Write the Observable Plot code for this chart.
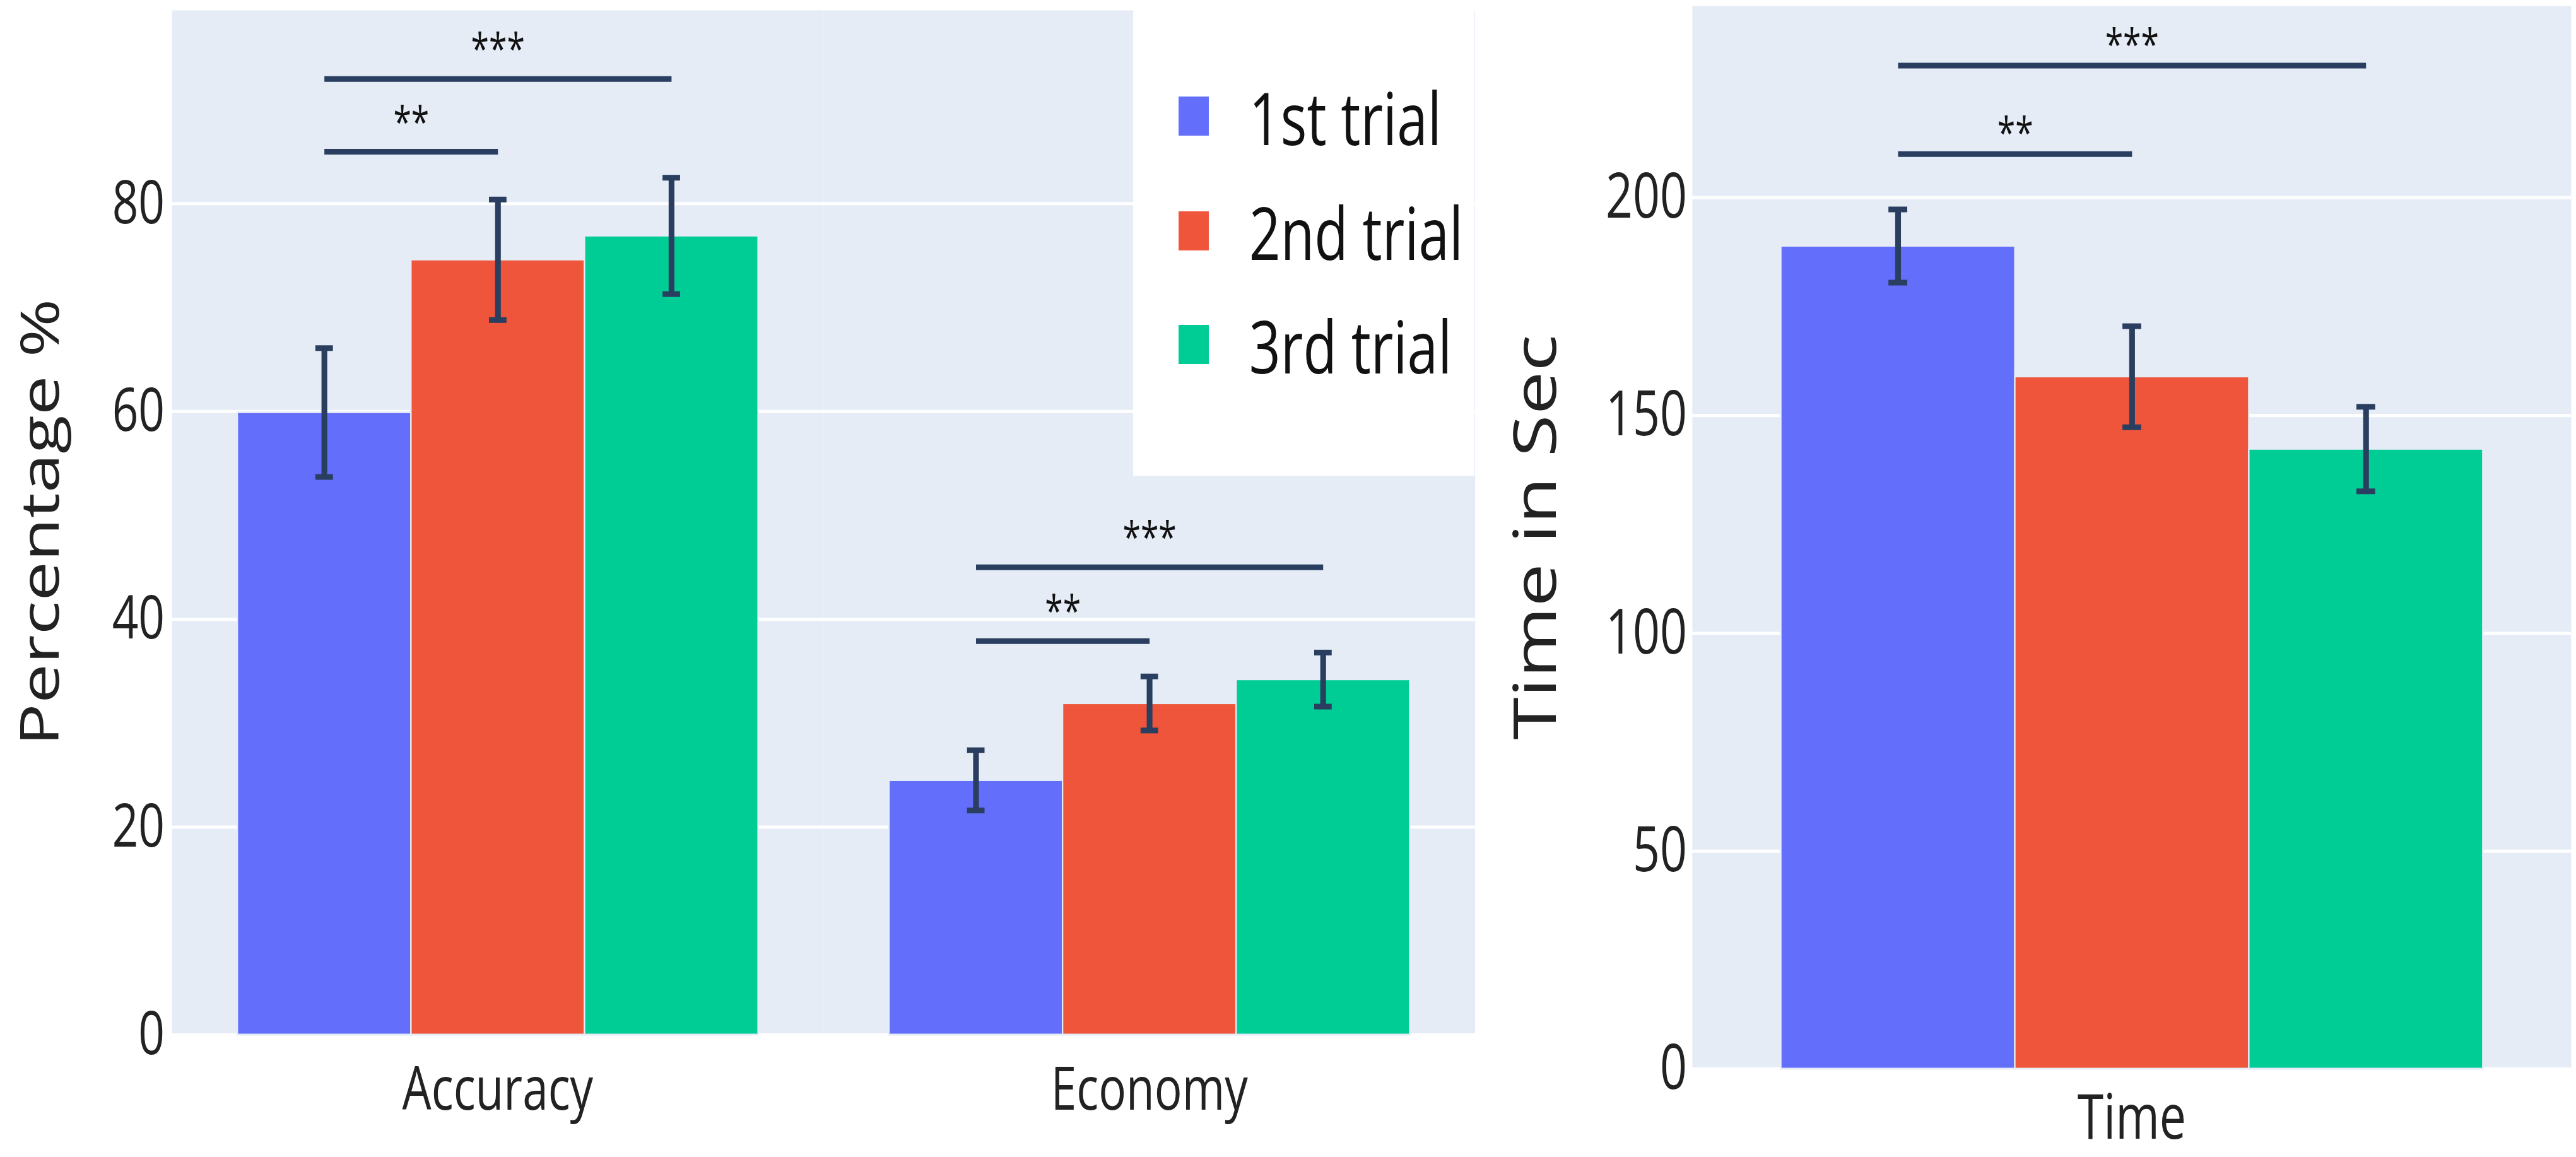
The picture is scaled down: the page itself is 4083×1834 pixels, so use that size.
<!DOCTYPE html>
<html>
<head>
<meta charset="utf-8">
<script src="https://cdn.jsdelivr.net/npm/d3@7"></script>
<script src="https://cdn.jsdelivr.net/npm/@observablehq/plot@0.6"></script>
<style>
html, body { margin: 0; padding: 0; background: #fff; overflow: hidden; }
#root { position: relative; width: 5372px; height: 1834px; transform: scaleX(0.76); transform-origin: 0 0; font-family: "Open Sans", sans-serif; }
#root > svg { position: absolute; top: 0; }
</style>
</head>
<body>
<div id="root"></div>
<script>
// ---------- data ----------
const trials = ["1st trial", "2nd trial", "3rd trial"];
const trialColors = ["#636EFA", "#EF553B", "#00CC96"];

const leftMetrics = ["Accuracy", "Economy"];
const accuracyMean = [59.9, 74.6, 76.9];
const accuracyErr = [6.2, 5.8, 5.6];
const economyMean = [24.5, 31.9, 34.2];
const economyErr = [2.9, 2.6, 2.6];

const rightMetrics = ["Time"];
const timeMean = [188.9, 158.9, 142.3];
const timeErr = [8.4, 11.6, 9.7];

const leftTicks = [0, 20, 40, 60, 80];
const rightTicks = [0, 50, 100, 150, 200];
const leftYMax = 98.6;
const rightYMax = 244;
const leftTitle = "Percentage %";
const rightTitle = "Time in Sec";

// significance annotations
const sigLeftMetric = ["Accuracy", "Accuracy", "Economy", "Economy"];
const sigLeftFrom = ["1st trial", "1st trial", "1st trial", "1st trial"];
const sigLeftTo = ["3rd trial", "2nd trial", "3rd trial", "2nd trial"];
const sigLeftY = [92.0, 85.0, 45.0, 37.9];
const sigLeftLabel = ["***", "**", "***", "**"];

const sigRightMetric = ["Time", "Time"];
const sigRightFrom = ["1st trial", "1st trial"];
const sigRightTo = ["3rd trial", "2nd trial"];
const sigRightY = [230.3, 210.0];
const sigRightLabel = ["***", "**"];

// ---------- helpers ----------
const INK = "#2a3f5f";
const BG = "#E5ECF6";
const TEXT = "#222";

function buildRows(metrics, means, errs) {
  const rows = [];
  metrics.forEach((m, mi) => {
    trials.forEach((t, ti) => {
      const v = means[mi][ti], e = errs[mi][ti];
      rows.push({metric: m, trial: t, mean: v, lo: v - e, hi: v + e});
    });
  });
  return rows;
}
function buildSig(metric, from, to, y, label) {
  return metric.map((m, i) => {
    const i1 = trials.indexOf(from[i]), i2 = trials.indexOf(to[i]);
    const mid = (i1 + i2) / 2;
    return {metric: m, from: from[i], to: to[i], y: y[i], label: label[i],
            at: trials[Math.floor(mid)], frac: mid - Math.floor(mid)};
  });
}

function makeChart(cfg) {
  const {metrics, rows, sig, ticks, yMax, width, height, mt, mr, mb, ml,
         fontSize, tickPadding, fxPadding, starDy, capW, stemW} = cfg;
  const outer = 0.375;
  const facetW = (width - ml - mr) / metrics.length;
  const bw = facetW / (trials.length + 2 * outer);
  const inset = (bw - capW) / 2;
  const fracs = Array.from(new Set(sig.map(d => d.frac)));
  const textMarks = fracs.map(f => Plot.text(sig.filter(d => d.frac === f), {
    fx: "metric", x: "at", y: "y", text: "label", dx: f * bw, dy: starDy,
    lineAnchor: "bottom", textAnchor: "middle", fontSize: 68, fill: "#111"
  }));
  return Plot.plot({
    width, height,
    marginTop: mt, marginRight: mr, marginBottom: mb, marginLeft: ml,
    style: {fontFamily: "'Open Sans', sans-serif", fontSize: fontSize + "px", color: TEXT, background: "white", overflow: "visible"},
    x: {domain: trials, paddingInner: 0, paddingOuter: outer, axis: null},
    fx: {domain: metrics, padding: 0, axis: "bottom", label: null, tickSize: 0, tickPadding: fxPadding},
    y: {domain: [0, yMax], ticks, tickSize: 0, tickPadding, label: null, tickFormat: d => String(d)},
    color: {domain: trials, range: trialColors},
    marks: [
      Plot.frame({fill: BG, stroke: "none"}),
      Plot.ruleY(ticks, {stroke: "white", strokeWidth: 5}),
      Plot.barY(rows, {fx: "metric", x: "trial", y: "mean", fill: "trial", stroke: BG, strokeWidth: 3}),
      Plot.ruleX(rows, {fx: "metric", x: "trial", y1: "lo", y2: "hi", stroke: INK, strokeWidth: stemW}),
      Plot.tickY(rows, {fx: "metric", x: "trial", y: "hi", stroke: INK, strokeWidth: 9, insetLeft: inset, insetRight: inset}),
      Plot.tickY(rows, {fx: "metric", x: "trial", y: "lo", stroke: INK, strokeWidth: 9, insetLeft: inset, insetRight: inset}),
      Plot.link(sig, {fx: "metric", x1: "from", x2: "to", y1: "y", y2: "y", stroke: INK, strokeWidth: 9}),
      ...textMarks
    ]
  });
}

function addTitle(svg, text, cx, cy, size) {
  d3.select(svg).append("text")
    .attr("transform", `translate(${cx},${cy}) rotate(-90)`)
    .attr("text-anchor", "middle")
    .attr("dy", "0.36em")
    .attr("fill", TEXT)
    .style("font-family", "'Open Sans', sans-serif")
    .style("font-size", size + "px")
    .text(text);
}

const root = document.getElementById("root");

// ---------- left chart ----------
const L = {width: 3100, height: 1834, mt: 16, mb: 194, ml: 358, mr: 3100 - 3076};
const leftChart = makeChart({
  metrics: leftMetrics,
  rows: buildRows(leftMetrics, [accuracyMean, economyMean], [accuracyErr, economyErr]),
  sig: buildSig(sigLeftMetric, sigLeftFrom, sigLeftTo, sigLeftY, sigLeftLabel),
  ticks: leftTicks, yMax: leftYMax, ...L,
  fontSize: 96, tickPadding: 15, fxPadding: 50, starDy: -23, capW: 37, stemW: 12
});
leftChart.style.left = "0px";
root.appendChild(leftChart);
addTitle(leftChart, leftTitle, 82, L.mt + (L.height - L.mt - L.mb) / 2, 112);

// ---------- right chart ----------
const R = {width: 5372 - 3100, height: 1834, mt: 9, mb: 140, ml: 3529 - 3100, mr: 5372 - 5362};
const rightChart = makeChart({
  metrics: rightMetrics,
  rows: buildRows(rightMetrics, [timeMean], [timeErr]),
  sig: buildSig(sigRightMetric, sigRightFrom, sigRightTo, sigRightY, sigRightLabel),
  ticks: rightTicks, yMax: rightYMax, ...R,
  fontSize: 99, tickPadding: 11, fxPadding: 40, starDy: -9, capW: 40, stemW: 12
});
rightChart.style.left = "3100px";
root.appendChild(rightChart);
addTitle(rightChart, rightTitle, 101, R.mt + (R.height - R.mt - R.mb) / 2, 122);

// ---------- legend (overlay, top right of left chart) ----------
const color = leftChart.scale("color");
const lg = d3.select(root).append("svg")
  .attr("width", 712).attr("height", 754)
  .style("left", "2363px").style("top", "0px");
lg.append("rect").attr("width", 712).attr("height", 754).attr("fill", "white");
const rowY = [184, 366, 546];
const item = lg.selectAll("g").data(color.domain).join("g")
  .attr("transform", (d, i) => `translate(0,${rowY[i]})`);
item.append("rect").attr("x", 95).attr("y", -31).attr("width", 63).attr("height", 62)
  .attr("fill", (d, i) => color.range[i]);
item.append("text").attr("x", 242).attr("y", 46)
  .attr("fill", "#111")
  .style("font-family", "'Open Sans', sans-serif").style("font-size", "115px")
  .text(d => d);
</script>
</body>
</html>
